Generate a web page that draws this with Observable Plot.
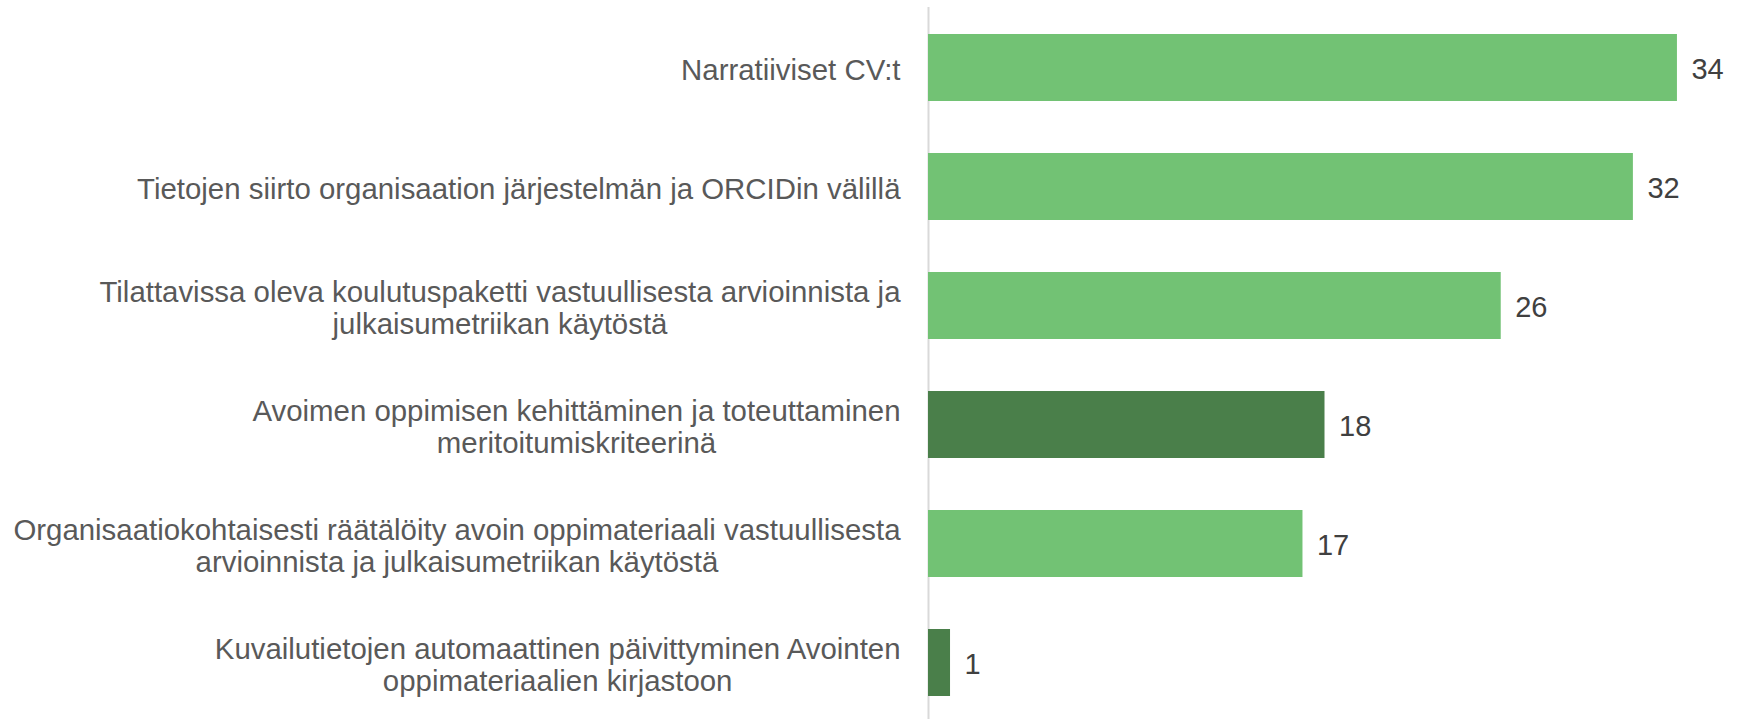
<!DOCTYPE html>
<html>
<head>
<meta charset="utf-8">
<script src="https://cdn.jsdelivr.net/npm/d3@7"></script>
<script src="https://cdn.jsdelivr.net/npm/@observablehq/plot@0.6"></script>
<style>
  html, body { margin: 0; padding: 0; background: #fff; overflow: hidden; }
</style>
</head>
<body>
<div id="chart"></div>
<script>
const categories = [
  "Narratiiviset CV:t",
  "Tietojen siirto organisaation järjestelmän ja ORCIDin välillä",
  "Tilattavissa oleva koulutuspaketti vastuullisesta arvioinnista ja\njulkaisumetriikan käytöstä",
  "Avoimen oppimisen kehittäminen ja toteuttaminen\nmeritoitumiskriteerinä",
  "Organisaatiokohtaisesti räätälöity avoin oppimateriaali vastuullisesta\narvioinnista ja julkaisumetriikan käytöstä",
  "Kuvailutietojen automaattinen päivittyminen Avointen\noppimateriaalien kirjastoon"
];
const values = [34, 32, 26, 18, 17, 1];
const groups = ["Vastuullinen arviointi", "Vastuullinen arviointi", "Vastuullinen arviointi", "Avoin oppiminen", "Vastuullinen arviointi", "Avoin oppiminen"];
const groupNames = ["Vastuullinen arviointi", "Avoin oppiminen"];
const groupColors = ["#72c274", "#4a7f4a"];

const data = categories.map((c, i) => ({category: c, value: values[i], group: groups[i]}));

const chart = Plot.plot({
  width: 1737,
  height: 724,
  marginLeft: 928,
  marginRight: 16,
  marginTop: 7,
  marginBottom: 0,
  style: {fontFamily: "'Liberation Sans', Arial, sans-serif", background: "#fff"},
  x: {domain: [0, 36], axis: null},
  y: {domain: categories, axis: null, paddingInner: 0.434, paddingOuter: 0.217},
  color: {domain: groupNames, range: groupColors},
  marks: [
    Plot.ruleX([0], {stroke: "#d9d9d9", strokeWidth: 2}),
    Plot.barX(data, {x: "value", y: "category", fill: "group"}),
    Plot.text(data, {x: "value", y: "category", text: d => String(d.value), textAnchor: "start", dx: 14, dy: 2, fontSize: 29, fill: "#404040"}),
    Plot.text(data, {x: 0, y: "category", text: "category", textAnchor: "end", dx: -28, dy: 1.5, fontSize: 29.4, lineHeight: 1.1, fill: "#595959", ariaDescription: "catlabels"})
  ]
});
document.getElementById("chart").appendChild(chart);

// center wrapped lines relative to each other (right edge of the longest line stays fixed)
d3.select(chart).selectAll("g[aria-description='catlabels'] text").each(function() {
  const tspans = this.querySelectorAll("tspan");
  if (tspans.length < 2) return;
  let maxW = 0;
  tspans.forEach(t => { maxW = Math.max(maxW, t.getComputedTextLength()); });
  this.setAttribute("text-anchor", "middle");
  tspans.forEach(t => t.setAttribute("x", -maxW / 2));
});
</script>
</body>
</html>
